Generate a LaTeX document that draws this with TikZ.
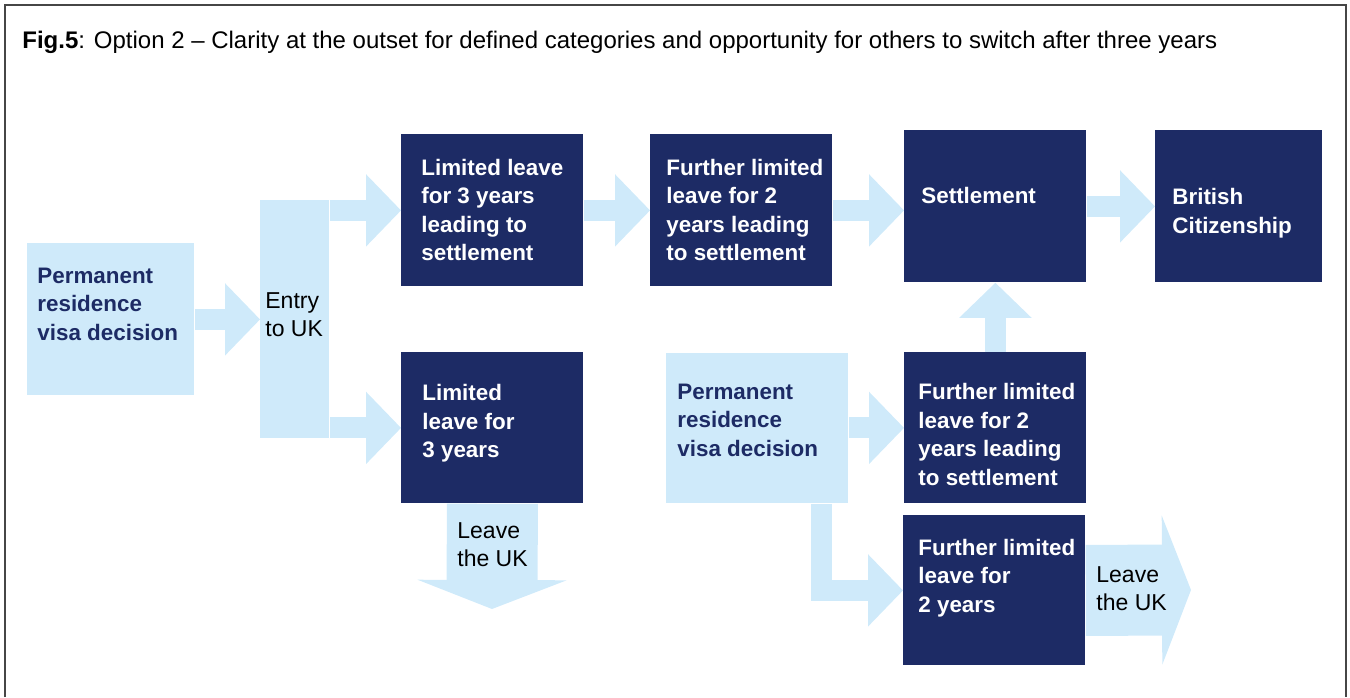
\documentclass[tikz,border=0pt]{standalone}
\usepackage{fontspec}
\setmainfont{Liberation Sans}
\usepackage{xcolor}
\definecolor{hoblue}{RGB}{29,43,101}
\definecolor{holight}{RGB}{207,234,250}
\definecolor{hogray}{RGB}{70,70,70}
\usetikzlibrary{arrows.meta, calc}

\begin{document}
\begin{tikzpicture}[x=0.5pt, y=-0.5pt,
    darkbox/.style={fill=hoblue, inner sep=0pt, anchor=north west, minimum width=91pt, minimum height=76pt},
    lightbox/.style={darkbox, fill=holight},
    boxtext/.style={anchor=north west, inner sep=0pt, align=left, text=white, font=\fontsize{11.2}{14.25}\selectfont\bfseries},
    lighttext/.style={boxtext, text=hoblue},
    plaintext/.style={anchor=north west, inner sep=0pt, align=left, font=\fontsize{11.5}{14}\selectfont},
    flow/.style={draw=holight, line width=10.5pt, -{Triangle[width=36pt, length=17.5pt, line width=1pt]}},
    exit/.style={draw=holight, line width=45.5pt, -{Triangle[width=74.5pt, length=14.5pt, line width=1pt]}}
]
\useasboundingbox (0,0) rectangle (1350,697);

% Marco (abierto por abajo)
\draw[hogray, line width=1pt] (4.5,697) -- (4.5,5) -- (1346,5) -- (1346,697);

% Titulo
\node[anchor=base west, inner sep=0pt, font=\fontsize{12}{14}\selectfont] (title) at (22,48)
    {\textbf{Fig.5}: Option 2 – Clarity at the outset for defined categories and opportunity for others to switch after three years};

% Cajas
\node[lightbox, minimum width=83.5pt] (dec1) at (27,243) {};
\node[lightbox, minimum width=34.5pt, minimum height=119.25pt] (entry) at (260,199.5) {};
\node[darkbox] (lim3s) at (401,134) {};
\node[darkbox] (fur2s) at (650,134) {};
\node[darkbox] (settle) at (904,130) {};
\node[darkbox, minimum width=83.5pt] (brit) at (1155,130) {};
\node[darkbox, minimum height=75.5pt] (lim3) at (401,352) {};
\node[lightbox, minimum height=75pt] (dec2) at (666,353) {};
\node[darkbox, minimum height=75.5pt] (fur2sb) at (904,352) {};
\node[darkbox, minimum height=75pt] (fur2) at (903,515) {};

% Puntos finales de las salidas
\coordinate (out1) at (492,609);
\coordinate (out2) at (1191,590);

% Flechas de bloque
\draw[flow] (dec1.east) -- (dec1.east -| entry.west);
\draw[flow] (entry.east |- lim3s.west) -- (lim3s.west);
\draw[flow] (entry.east |- lim3.west) -- (lim3.west);
\draw[flow] (lim3s) -- (fur2s);
\draw[flow] (fur2s.east) -- (fur2s.east -| settle.west);
\draw[flow] (settle) -- (brit);
\draw[flow] (fur2sb) -- (settle);
\draw[flow] (dec2.east |- fur2sb.west) -- (fur2sb.west);
\draw[flow] ([xshift=-13.5pt]dec2.south east) |- (fur2.west);

% Salidas del Reino Unido
\draw[exit] (lim3.south) -- (out1);
\draw[exit] (fur2.east) -- (out2);

% Textos
\node[lighttext] (dec1-t) at (37,267.5) {Permanent\\residence\\visa decision};
\node[plaintext] (entry-t) at (265,292.5) {Entry\\to UK};
\node[boxtext] (lim3s-t) at (421,158.5) {Limited leave\\for 3 years\\leading to\\settlement};
\node[boxtext] (fur2s-t) at (666,158.5) {Further limited\\leave for 2\\years leading\\to settlement};
\node[boxtext] (settle-t) at (921,187) {Settlement};
\node[boxtext] (brit-t) at (1172,188) {British\\Citizenship};
\node[boxtext] (lim3-t) at (422,384) {Limited\\leave for\\3 years};
\node[lighttext] (dec2-t) at (677,383.5) {Permanent\\residence\\visa decision};
\node[boxtext] (fur2sb-t) at (918,383) {Further limited\\leave for 2\\years leading\\to settlement};
\node[boxtext] (fur2-t) at (918,538.5) {Further limited\\leave for\\2 years};
\node[plaintext] (out1-t) at (457,522.5) {Leave\\the UK};
\node[plaintext] (out2-t) at (1096,566) {Leave\\the UK};

\end{tikzpicture}
\end{document}
